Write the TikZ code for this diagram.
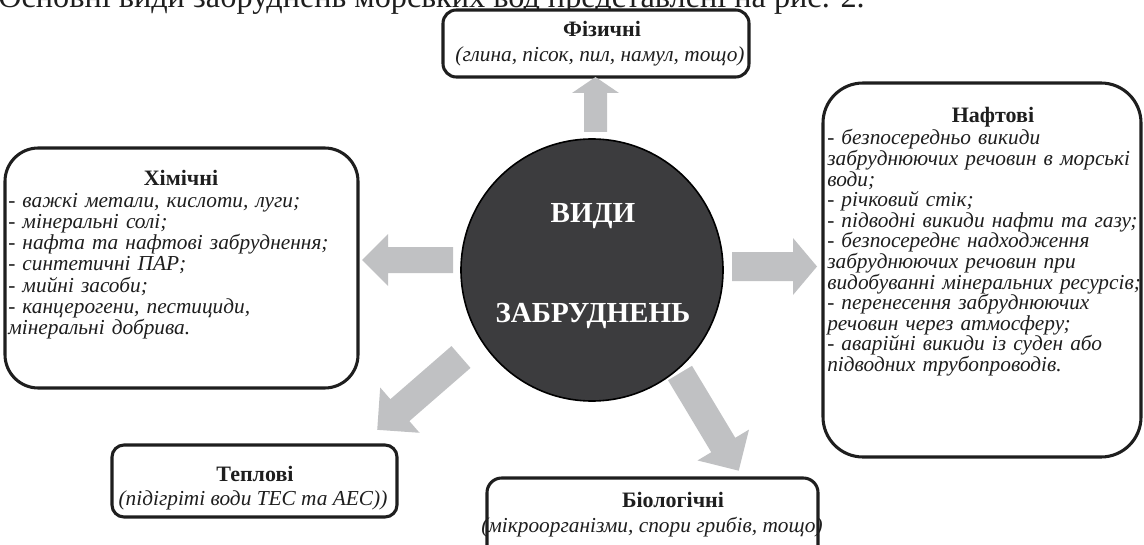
\documentclass[tikz,border=0pt]{standalone}
\usepackage{fontspec}
\setmainfont{Liberation Serif}
\definecolor{arrowgray}{HTML}{C0C1C3}
\definecolor{circfill}{HTML}{3C3C3E}
\definecolor{ink}{HTML}{1E1E1E}
\newcommand\fatarrow[6]{%
  \fill[fat, shift={(#1)}, rotate=#2] (0,-#4) -- ({#3-#6},-#4) -- ({#3-#6},-#5) -- (#3,0)
    -- ({#3-#6},#5) -- ({#3-#6},#4) -- (0,#4) -- cycle;}
\begin{document}
\begin{tikzpicture}[x=0.75pt,y=-0.75pt,
  box/.style={draw=ink, line width=2.3pt, fill=white, inner sep=0pt},
  ttl/.style={font=\fontsize{16.5}{18}\selectfont\bfseries, anchor=base, inner sep=0pt, text=ink},
  itl/.style={font=\fontsize{16}{18}\selectfont\itshape, anchor=base, inner sep=0pt, text=ink},
  lst/.style={font=\fontsize{16}{#1}\selectfont\itshape, align=left, text width=340pt,
              anchor=base west, inner sep=0pt, text=ink},
  core/.style={font=\fontsize{21.8}{24}\selectfont\bfseries, anchor=base, inner sep=0pt, text=white},
  fat/.style={fill=arrowgray}]
\useasboundingbox (0,0) rectangle (1144,545);

% top running text (cut off by the page edge, as in the reference)
\node[font=\fontsize{24.2}{28}\selectfont, anchor=base west, inner sep=0pt, text=ink] (intro) at (-2,7.5)
  {Основні види забруднень морських вод представлені на рис. 2.};

% boxes
\node[box, rounded corners=10pt, minimum width=229.5pt, minimum height=50.25pt] (fiz) at (596,43.5) {};
\node[box, rounded corners=25pt, minimum width=264.75pt, minimum height=180pt] (him) at (181.5,268) {};
\node[box, rounded corners=30pt, minimum width=238.5pt, minimum height=280.5pt] (naft) at (982,270) {};
\node[box, rounded corners=9pt, minimum width=213.75pt, minimum height=54pt] (tepl) at (254.5,481) {};
\node[box, rounded corners=11pt, minimum width=248.25pt, minimum height=72.75pt] (bio) at (652.5,526.5) {};

% centre
\node[circle, draw=black, line width=1.2pt, fill=circfill, minimum size=196.5pt, inner sep=0pt] (core) at (592,270) {};
\node[core] (coreA) at (593,223) {ВИДИ};
\node[core] (coreB) at (593,322) {ЗАБРУДНЕНЬ};

% texts
\node[ttl] (fizT) at (602,37) {Фізичні};
\node[itl] (fizL) at (600,62) {(глина, пісок, пил, намул, тощо)};

\node[ttl] (himT) at (181,186) {Хімічні};
\node[lst=15.75] (himL) at (8,208) {- важкі метали, кислоти, луги;\\
- мінеральні солі;\\
- нафта та нафтові забруднення;\\
- синтетичні ПАР;\\
- мийні засоби;\\
- канцерогени, пестициди,\\
мінеральні добрива.};

\node[ttl] (naftT) at (993,123) {Нафтові};
\node[lst=15.45] (naftL) at (827,145) {- безпосередньо викиди\\
забруднюючих речовин в морські\\
води;\\
- річковий стік;\\
- підводні викиди нафти та газу;\\
- безпосереднє надходження\\
забруднюючих речовин при\\
видобуванні мінеральних ресурсів;\\
- перенесення забруднюючих\\
речовин через атмосферу;\\
- аварійні викиди із суден або\\
підводних трубопроводів.};

\node[ttl] (teplT) at (255,481) {Теплові};
\node[itl] (teplL) at (253,505) {(підігріті води ТЕС та АЕС))};

\node[ttl] (bioT) at (673,507) {Біологічні};
\node[itl] (bioL) at (652,532) {(мікроорганізми, спори грибів, тощо)};

% arrows
\coordinate (aUp) at (595.5,132);
\coordinate (aLeft) at (453,260);
\coordinate (aRight) at (732,266.5);
\coordinate (aLL) at (461,357);
\coordinate (aLR) at (680,373);
\fatarrow{aUp}{90}{55}{11.5}{23.5}{16}
\fatarrow{aLeft}{180}{91}{13}{26}{26}
\fatarrow{aRight}{0}{85}{14.5}{28.5}{24}
\fatarrow{aLL}{-139}{111}{14.5}{30}{30}
\fatarrow{aLR}{-59}{114}{14}{30}{30}
\end{tikzpicture}
\end{document}
